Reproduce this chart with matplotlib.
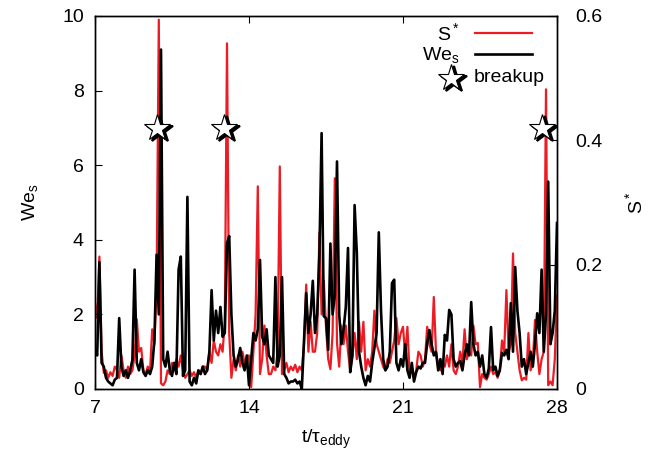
import numpy as np
import matplotlib
matplotlib.use('Agg')
import matplotlib.pyplot as plt
from matplotlib.transforms import offset_copy

plt.rcParams['font.family'] = ['Liberation Sans', 'DejaVu Sans']
plt.rcParams['mathtext.fontset'] = 'custom'
plt.rcParams['mathtext.rm'] = 'Liberation Sans'
plt.rcParams['mathtext.it'] = 'Liberation Sans:italic'

# 时间轴 t/tau_eddy，步长 0.1
t = np.linspace(7.0, 28.0, 211)

# We_s（左轴），按每个时间单位 10 个点读出
we_s = [
    1.0, 0.9, 3.4, 0.7, 0.6, 0.3, 0.2, 0.15, 0.1, 0.25,
    0.3, 1.9, 0.6, 0.35, 0.5, 0.3, 0.5, 0.78, 3.2, 0.7,
    0.5, 0.8, 0.45, 0.35, 0.5, 0.4, 0.6, 1.3, 3.6, 2.0,
    9.1, 0.8, 0.6, 1.0, 0.5, 0.35, 0.7, 0.4, 3.2, 3.55,
    0.35, 0.5, 5.15, 0.2, 0.1, 0.3, 0.15, 0.5, 0.4, 0.6,
    0.4, 0.5, 1.0, 2.65, 1.3, 2.1, 1.5, 2.2, 1.4, 1.5,
    3.9, 4.1, 2.0, 0.9, 0.6, 0.8, 1.1, 0.7, 0.5, 0.9,
    0.1, 0.8, 1.5, 1.3, 1.6, 3.46, 1.4, 1.2, 1.6, 0.9,
    0.8, 0.7, 3.0, 0.6, 0.9, 3.0, 0.4, 0.3, 0.15, 0.2,
    0.2, 0.25, 0.15, 0.2, 0.0, 1.3, 2.57, 1.5, 2.0, 2.9,
    1.5, 2.0, 3.6, 6.86, 1.95, 1.9, 1.05, 3.9, 2.0, 2.5,
    6.1, 2.0, 1.2, 1.6, 2.2, 3.78, 0.45, 0.9, 4.93, 3.65,
    1.0, 0.6, 0.3, 0.1, 0.35, 0.2, 0.7, 1.1, 1.5, 4.2,
    2.1, 0.8, 0.5, 0.6, 1.0, 2.84, 2.93, 0.7, 0.5, 0.8,
    0.6, 1.2, 0.5, 0.3, 0.7, 0.2, 0.45, 0.6, 0.55, 0.7,
    0.7, 1.23, 1.58, 1.2, 0.9, 1.0, 0.5, 0.8, 0.4, 1.45,
    1.3, 2.12, 2.0, 0.8, 0.6, 0.7, 0.75, 0.5, 0.9, 1.2,
    0.9, 2.33, 1.2, 0.9, 1.0, 0.6, 0.9, 0.4, 0.3, 0.55,
    1.66, 0.5, 0.6, 0.35, 0.5, 0.97, 0.9, 1.05, 0.8, 2.3,
    1.0, 3.27, 2.1, 1.5, 0.6, 0.8, 0.4, 0.7, 1.0, 0.6,
    1.2, 2.03, 1.5, 3.2, 1.0, 2.0, 5.56, 1.2, 1.5, 2.1,
    4.45,
]

# S*（右轴）
s_star = [
    0.138, 0.114, 0.213, 0.06, 0.026, 0.03, 0.018, 0.027, 0.021, 0.036,
    0.03, 0.018, 0.054, 0.03, 0.018, 0.036, 0.024, 0.03, 0.054, 0.112,
    0.06, 0.066, 0.03, 0.024, 0.036, 0.027, 0.096, 0.072, 0.162, 0.594,
    0.009, 0.006, 0.012, 0.03, 0.024, 0.042, 0.03, 0.048, 0.036, 0.054,
    0.03, 0.018, 0.024, 0.03, 0.021, 0.027, 0.018, 0.03, 0.024, 0.036,
    0.036, 0.03, 0.06, 0.042, 0.078, 0.06, 0.054, 0.072, 0.06, 0.108,
    0.556, 0.09, 0.018, 0.048, 0.03, 0.054, 0.036, 0.06, 0.042, 0.048,
    0.054, 0.003, 0.06, 0.12, 0.326, 0.024, 0.048, 0.102, 0.054, 0.024,
    0.024, 0.036, 0.03, 0.06, 0.358, 0.024, 0.03, 0.042, 0.027, 0.036,
    0.03, 0.039, 0.027, 0.036, 0.03, 0.072, 0.168, 0.06, 0.108, 0.06,
    0.06, 0.09, 0.252, 0.12, 0.174, 0.1, 0.048, 0.032, 0.09, 0.339,
    0.074, 0.036, 0.102, 0.072, 0.102, 0.06, 0.03, 0.054, 0.09, 0.048,
    0.108, 0.06, 0.108, 0.03, 0.048, 0.036, 0.06, 0.126, 0.072, 0.06,
    0.048, 0.036, 0.03, 0.048, 0.042, 0.06, 0.078, 0.114, 0.072, 0.09,
    0.1, 0.054, 0.1, 0.024, 0.036, 0.018, 0.03, 0.06, 0.054, 0.036,
    0.048, 0.1, 0.072, 0.06, 0.148, 0.06, 0.036, 0.03, 0.042, 0.036,
    0.054, 0.036, 0.072, 0.03, 0.024, 0.036, 0.06, 0.042, 0.096, 0.048,
    0.06, 0.054, 0.102, 0.072, 0.074, 0.003, 0.024, 0.018, 0.015, 0.024,
    0.036, 0.024, 0.027, 0.018, 0.03, 0.078, 0.06, 0.159, 0.06, 0.072,
    0.218, 0.09, 0.06, 0.03, 0.014, 0.018, 0.015, 0.09, 0.03, 0.042,
    0.111, 0.06, 0.024, 0.048, 0.06, 0.482, 0.006, 0.012, 0.006, 0.048,
    0.15,
]

# 破碎事件
breakup_t = [9.82, 12.85, 27.32]
breakup_we = [7.0, 7.0, 7.0]

RED = '#ec1c24'

fig = plt.figure(figsize=(6.52, 4.61), dpi=100)
fig.subplots_adjust(left=0.1457, right=0.8543, top=0.9653, bottom=0.1562)
ax = fig.add_subplot(111)
ax2 = ax.twinx()

ax2.plot(t, s_star, color=RED, lw=1.6)
ax.plot(t, we_s, color='black', lw=1.9)

# 星形标记（带阴影）
shadow = offset_copy(ax.transData, fig=fig, x=3, y=-2, units='dots')
ax.plot(breakup_t, breakup_we, ls='none', marker='*', ms=20, mfc='black',
        mec='black', mew=1.5, transform=shadow, zorder=5)
ax.plot(breakup_t, breakup_we, ls='none', marker='*', ms=20, mfc='white',
        mec='black', mew=0.8, zorder=6)

# 左轴置于上层
ax.set_zorder(ax2.get_zorder() + 1)
ax.patch.set_visible(False)

ax.set_xlim(7, 28)
ax.set_ylim(0, 10)
ax2.set_ylim(0, 0.6)
ax.set_xticks([7, 14, 21, 28])
ax.set_yticks([0, 2, 4, 6, 8, 10])
ax2.set_yticks([0, 0.2, 0.4, 0.6])
ax2.set_yticklabels(['0', '0.2', '0.4', '0.6'])

fs = 14
ax.tick_params(axis='x', direction='in', top=True, length=5, labelsize=fs, pad=8)
ax.tick_params(axis='y', direction='in', right=False, length=5, labelsize=fs, pad=8)
ax2.tick_params(axis='y', direction='in', length=5, labelsize=fs, pad=13)
for a in (ax, ax2):
    for sp in a.spines.values():
        sp.set_linewidth(1.0)

ax.set_xlabel(r't/τ$_\mathregular{eddy}$', fontsize=fs, labelpad=8)
ax.set_ylabel(r'We$_\mathregular{s}$', fontsize=fs, labelpad=16)
ax2.set_ylabel(r'S$^*$', fontsize=fs, labelpad=16)

# 图例（gnuplot 风格：文字在左，样线在右）
tr = ax.transAxes
ax.text(0.79, 0.955, r'S$^*$', transform=tr, ha='right', va='center', fontsize=fs)
ax.plot([0.822, 0.946], [0.954, 0.954], color=RED, lw=1.6, transform=tr)
ax.text(0.79, 0.895, r'We$_\mathregular{s}$', transform=tr, ha='right', va='center', fontsize=fs)
ax.plot([0.822, 0.946], [0.898, 0.898], color='black', lw=1.9, transform=tr)
star_sh = offset_copy(tr, fig=fig, x=3, y=-2, units='dots')
ax.plot([0.77], [0.835], ls='none', marker='*', ms=20, mfc='black', mec='black',
        mew=1.5, transform=star_sh)
ax.plot([0.77], [0.835], ls='none', marker='*', ms=20, mfc='white', mec='black',
        mew=0.8, transform=tr)
ax.text(0.82, 0.835, 'breakup', transform=tr, ha='left', va='center', fontsize=fs)

fig.savefig('out.png', dpi=100)
